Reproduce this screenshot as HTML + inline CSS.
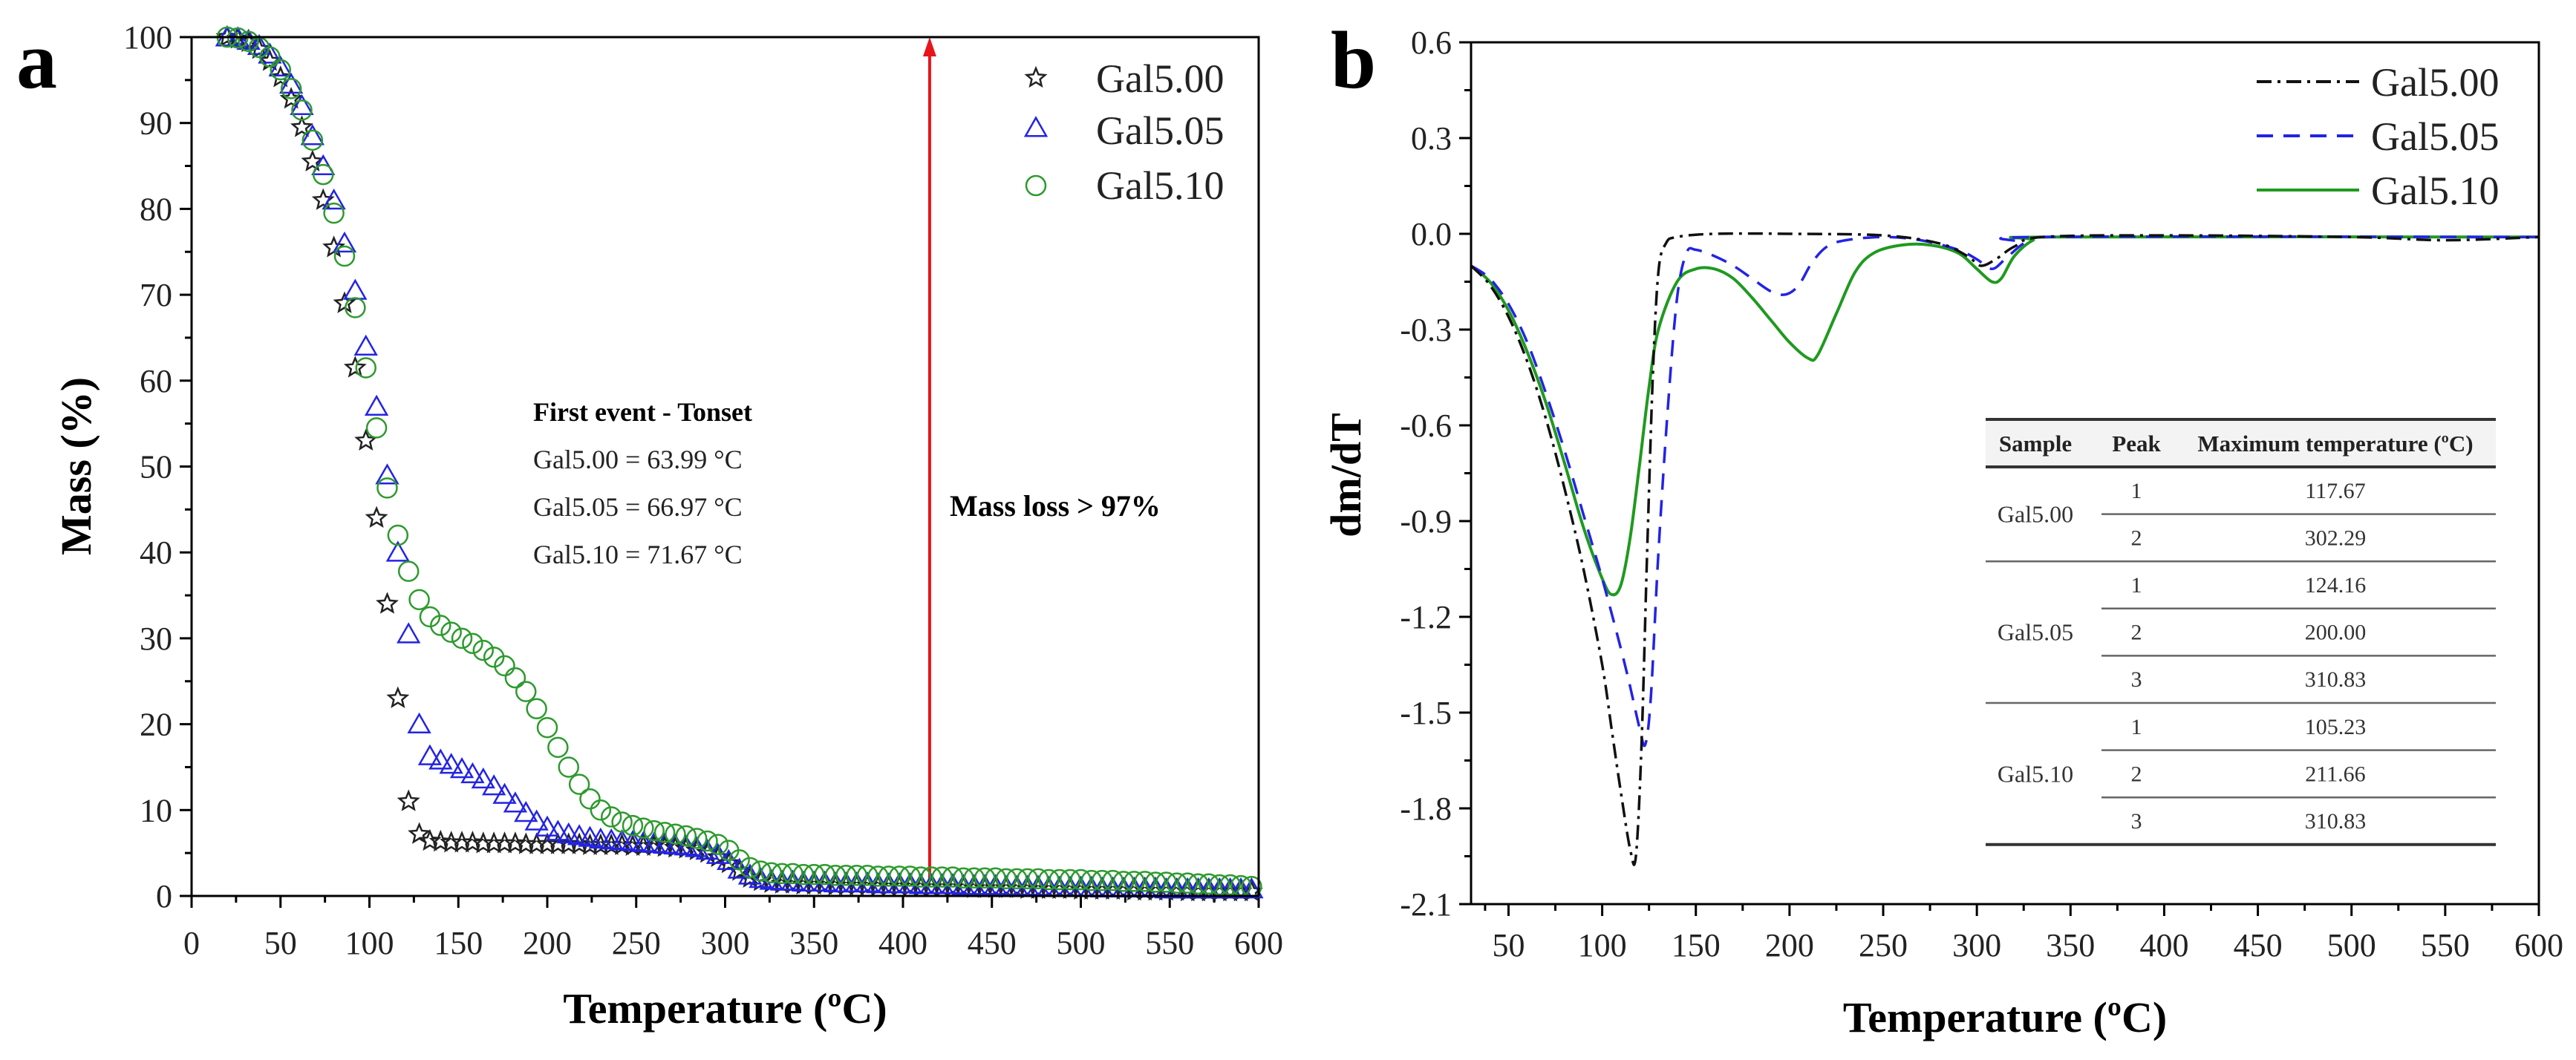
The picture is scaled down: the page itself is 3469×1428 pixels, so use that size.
<!DOCTYPE html>
<html><head><meta charset="utf-8"><style>
html,body{margin:0;padding:0;background:#fff;}
svg{display:block;font-family:"Liberation Serif",serif;}
</style></head><body>
<svg id="fig" width="3469" height="1428" viewBox="0 0 3469 1428" xmlns="http://www.w3.org/2000/svg">
<rect width="3469" height="1428" fill="#fff"/>
<g id="pa"></g>
<g id="pb"></g>
</svg>
<script>
// ---------- Panel a data ----------
const tempA = [20,26,32,38,44,50,56,62,68,74,80,86,92,98,104,110,116,122,128,134,140,146,152,158,164,170,176,182,188,194,200,206,212,218,224,230,236,242,248,254,260,266,272,278,284,290,296,302,308,314,320,326,332,338,344,350,356,362,368,374,380,386,392,398,404,410,416,422,428,434,440,446,452,458,464,470,476,482,488,494,500,506,512,518,524,530,536,542,548,554,560,566,572,578,584,590,596];
const massGal500 = [100,99.8,99.4,98.6,97.2,95.3,92.8,89.5,85.5,81,75.5,69,61.5,53,44,34,23,11,7.2,6.4,6.3,6.2,6.2,6.2,6.1,6.1,6.1,6.1,6.0,6.0,6.0,6.0,6.0,6.0,5.9,5.9,5.9,5.9,5.8,5.8,5.8,5.7,5.6,5.5,5.3,5.0,4.5,3.8,2.9,2.1,1.7,1.5,1.4,1.4,1.3,1.3,1.3,1.2,1.2,1.2,1.2,1.1,1.1,1.1,1.1,1.0,1.0,1.0,1.0,1.0,0.9,0.9,0.9,0.9,0.9,0.8,0.8,0.8,0.8,0.8,0.7,0.7,0.7,0.7,0.7,0.6,0.6,0.6,0.6,0.6,0.5,0.5,0.5,0.5,0.5,0.5,0.5];
const massGal505 = [100,99.9,99.6,99,98,96.5,94.5,92,88.5,85,81,76,70.5,64,57,49,40,30.5,20,16.3,15.8,15.3,14.8,14.2,13.6,12.8,11.8,10.8,9.7,8.7,8,7.5,7.2,7,6.8,6.6,6.5,6.4,6.3,6.2,6.1,6.0,5.9,5.8,5.6,5.3,4.8,4.1,3.1,2.4,2.0,1.8,1.7,1.7,1.6,1.6,1.6,1.5,1.5,1.5,1.5,1.4,1.4,1.4,1.4,1.3,1.3,1.3,1.3,1.2,1.2,1.2,1.2,1.1,1.1,1.1,1.1,1.0,1.0,1.0,1.0,1.0,0.9,0.9,0.9,0.9,0.9,0.9,0.8,0.8,0.8,0.8,0.8,0.8,0.8,0.8,0.8];
const massGal510 = [100,99.9,99.5,98.8,97.7,96.2,94,91.5,88,84,79.5,74.5,68.5,61.5,54.5,47.5,42,37.8,34.5,32.5,31.5,30.7,30,29.4,28.6,27.8,26.8,25.4,23.8,21.8,19.6,17.3,15,13,11.3,10,9.2,8.6,8.2,7.9,7.6,7.4,7.2,7,6.7,6.4,6,5.3,4.2,3.3,2.9,2.7,2.6,2.6,2.5,2.5,2.5,2.4,2.4,2.4,2.4,2.3,2.3,2.3,2.3,2.2,2.2,2.2,2.2,2.1,2.1,2.1,2.1,2.0,2.0,2.0,2.0,1.9,1.9,1.9,1.9,1.8,1.8,1.8,1.7,1.7,1.7,1.6,1.6,1.5,1.5,1.4,1.4,1.3,1.3,1.2,1.1];
const xTicksA = [0,50,100,150,200,250,300,350,400,450,500,550,600];
const yTicksA = [0,10,20,30,40,50,60,70,80,90,100];
const arrowTemp = 415;
const arrowFrom = 2, arrowTo = 100;

// ---------- Panel b data ----------
const tB500 = [30,40,50,60,70,80,90,100,105,110,115,118,121,124,127,130,134,140,160,200,250,280,295,302,310,320,335,400,500,550,600];
const dB500 = [-0.1,-0.16,-0.26,-0.40,-0.58,-0.80,-1.05,-1.35,-1.55,-1.75,-1.93,-1.95,-1.6,-1.0,-0.45,-0.12,-0.03,-0.01,0,0,-0.005,-0.03,-0.07,-0.1,-0.08,-0.04,-0.01,-0.005,-0.01,-0.02,-0.01];
const tB505 = [30,40,50,60,70,80,90,100,110,115,120,123,126,130,135,140,145,150,160,170,180,190,198,205,212,220,230,250,270,290,300,308,315,325,335,600];
const dB505 = [-0.1,-0.14,-0.22,-0.34,-0.50,-0.68,-0.88,-1.08,-1.30,-1.42,-1.55,-1.6,-1.45,-1.0,-0.55,-0.2,-0.06,-0.05,-0.07,-0.1,-0.14,-0.18,-0.19,-0.16,-0.09,-0.04,-0.02,-0.01,-0.02,-0.05,-0.08,-0.11,-0.08,-0.03,-0.01,-0.01];
const tB510 = [30,40,50,60,70,80,90,100,105,110,115,120,125,130,140,150,160,170,180,190,200,210,215,225,235,245,260,275,290,300,308,313,320,330,340,600];
const dB510 = [-0.1,-0.15,-0.24,-0.37,-0.53,-0.72,-0.92,-1.08,-1.13,-1.1,-0.95,-0.72,-0.48,-0.3,-0.15,-0.11,-0.11,-0.14,-0.2,-0.27,-0.34,-0.39,-0.38,-0.25,-0.12,-0.06,-0.035,-0.035,-0.06,-0.11,-0.15,-0.14,-0.07,-0.02,-0.01,-0.01];
const xTicksB = [50,100,150,200,250,300,350,400,450,500,550,600];
const yTicksB = [0.6,0.3,0.0,-0.3,-0.6,-0.9,-1.2,-1.5,-1.8,-2.1];
const tableSamples = ["Gal5.00","Gal5.05","Gal5.10"];
const tablePeaks = [["1","2"],["1","2","3"],["1","2","3"]];
const tableTemps = [["117.67","302.29"],["124.16","200.00","310.83"],["105.23","211.66","310.83"]];

const NS="http://www.w3.org/2000/svg";
function mk(parent,tag,attrs,text){const e=document.createElementNS(NS,tag);for(const k in attrs)e.setAttribute(k,attrs[k]);if(text!==undefined)e.textContent=text;parent.appendChild(e);return e;}

// ===== Panel A =====
const pa=document.getElementById('pa');
const AL=258,AR=1695,AT=50,AB=1207;
const ax=v=>AL+(v-0)/(600-0)*(AR-AL);
const ay=v=>AB-(v-0)/(100-0)*(AB-AT);
let t=mk(pa,'text',{x:22,y:118,'font-size':110,'font-weight':'bold'},'a');


// minor ticks
for(let i=0;i<xTicksA.length-1;i++){const m=(xTicksA[i]+xTicksA[i+1])/2;const l=mk(pa,'line',{x1:ax(m),x2:ax(m),y1:AB,y2:AB+9,stroke:'#000','stroke-width':3});

}
for(let i=0;i<yTicksA.length-1;i++){const m=(yTicksA[i]+yTicksA[i+1])/2;const l=mk(pa,'line',{x1:AL-9,x2:AL,y1:ay(m),y2:ay(m),stroke:'#000','stroke-width':3});

}
xTicksA.forEach(v=>{const l=mk(pa,'line',{x1:ax(v),x2:ax(v),y1:AB,y2:AB+16,stroke:'#000','stroke-width':3});


const tx=mk(pa,'text',{x:ax(v),y:AB+78,'font-size':44,'text-anchor':'middle',fill:'#222'},String(v));

});
yTicksA.forEach(v=>{const l=mk(pa,'line',{x1:AL-16,x2:AL,y1:ay(v),y2:ay(v),stroke:'#000','stroke-width':3});


const tx=mk(pa,'text',{x:AL-26,y:ay(v)+15,'font-size':44,'text-anchor':'end',fill:'#222'},String(v));

});
t=mk(pa,'text',{x:(AL+AR)/2,y:1378,'font-size':58,'font-weight':'bold','text-anchor':'middle'},'Temperature (ºC)');


t=mk(pa,'text',{x:0,y:0,'font-size':58,'font-weight':'bold','text-anchor':'middle',transform:'translate(122,628) rotate(-90)'},'Mass (%)');


// arrow
const arr=mk(pa,'line',{x1:ax(arrowTemp),x2:ax(arrowTemp),y1:ay(arrowFrom),y2:ay(arrowTo)+24,stroke:'#e8141b','stroke-width':4});


const ah=mk(pa,'polygon',{points:`${ax(arrowTemp)-9},${ay(arrowTo)+26} ${ax(arrowTemp)+9},${ay(arrowTo)+26} ${ax(arrowTemp)},${ay(arrowTo)}`,fill:'#e8141b'});


// markers
function star(g,cx,cy,r,col){let p=[];for(let i=0;i<10;i++){const a=-Math.PI/2+i*Math.PI/5;const rr=i%2?r*0.45:r;p.push((cx+rr*Math.cos(a)).toFixed(1)+','+(cy+rr*Math.sin(a)).toFixed(1));}return mk(g,'polygon',{points:p.join(' '),fill:'none',stroke:col,'stroke-width':2.5});}
const gS=mk(pa,'g',{});


const gT=mk(pa,'g',{});


const gC=mk(pa,'g',{});


function tri(g,cx,cy,r,col){return mk(g,'polygon',{points:`${cx-r},${cy+r*0.8} ${cx+r},${cy+r*0.8} ${cx},${cy-r*0.95}`,fill:'none',stroke:col,'stroke-width':2.5});}
tempA.forEach((T,i)=>{const c=mk(gC,'circle',{cx:ax(T),cy:ay(massGal510[i]),r:13,fill:'none',stroke:'#2e9a2e','stroke-width':2.5});

});
tempA.forEach((T,i)=>{const c=tri(gT,ax(T),ay(massGal505[i]),14,'#2323e6');

});
tempA.forEach((T,i)=>{const c=star(gS,ax(T),ay(massGal500[i]),13,'#222');

});
// frame
const fa=mk(pa,'rect',{x:AL,y:AT,width:AR-AL,height:AB-AT,fill:'none',stroke:'#000','stroke-width':3});


// legend a
const legA=mk(pa,'g',{});


let s=star(legA,1395,105,13,'#222');
s=tri(legA,1395,172,14,'#2323e6');
s=mk(legA,'circle',{cx:1395,cy:250,r:13,fill:'none',stroke:'#2e9a2e','stroke-width':2.5});
["Gal5.00","Gal5.05","Gal5.10"].forEach((n,i)=>{const e=mk(legA,'text',{x:1476,y:[124,194,268][i],'font-size':54,fill:'#222'},n);

});
// annotations
t=mk(pa,'text',{x:718,y:567,'font-size':36,'font-weight':'bold'},'First event - Tonset');


["Gal5.00 = 63.99 °C","Gal5.05 = 66.97 °C","Gal5.10 = 71.67 °C"].forEach((n,i)=>{const e=mk(pa,'text',{x:718,y:631+i*64,'font-size':36,fill:'#222'},n);

});
t=mk(pa,'text',{x:1279,y:695,'font-size':40,'font-weight':'bold'},'Mass loss > 97%');



// ===== Panel B =====
const pb=document.getElementById('pb');
const BL=1981,BR=3419,BT=57,BB=1218;
const bx=v=>BL+(v-30)/(600-30)*(BR-BL);
const by=v=>BB-(v+2.1)/(0.6+2.1)*(BB-BT);
t=mk(pb,'text',{x:1792,y:118,'font-size':110,'font-weight':'bold'},'b');


[25,...xTicksB].forEach((v,i,a)=>{if(i<a.length-1){const m=(a[i]+a[i+1])/2;const l=mk(pb,'line',{x1:bx(m),x2:bx(m),y1:BB,y2:BB+9,stroke:'#000','stroke-width':3});

}});
for(let i=0;i<yTicksB.length-1;i++){const m=(yTicksB[i]+yTicksB[i+1])/2;const l=mk(pb,'line',{x1:BL-9,x2:BL,y1:by(m),y2:by(m),stroke:'#000','stroke-width':3});

}
xTicksB.forEach(v=>{const l=mk(pb,'line',{x1:bx(v),x2:bx(v),y1:BB,y2:BB+16,stroke:'#000','stroke-width':3});


const tx=mk(pb,'text',{x:bx(v),y:BB+70,'font-size':44,'text-anchor':'middle',fill:'#222'},String(v));

});
yTicksB.forEach(v=>{const l=mk(pb,'line',{x1:BL-16,x2:BL,y1:by(v),y2:by(v),stroke:'#000','stroke-width':3});


const tx=mk(pb,'text',{x:BL-26,y:by(v)+15,'font-size':44,'text-anchor':'end',fill:'#222'},v.toFixed(1));

});
t=mk(pb,'text',{x:(BL+BR)/2,y:1390,'font-size':58,'font-weight':'bold','text-anchor':'middle'},'Temperature (ºC)');


t=mk(pb,'text',{x:0,y:0,'font-size':58,'font-weight':'bold','text-anchor':'middle',transform:'translate(1832,640) rotate(-90)'},'dm/dT');


// table
const tb=mk(pb,'g',{});


const TL=2674,TR=3361;
mk(tb,'rect',{x:TL,y:565,width:TR-TL,height:64,fill:'#f3f3f3'});
mk(tb,'line',{x1:TL,x2:TR,y1:565,y2:565,stroke:'#333','stroke-width':4});
mk(tb,'line',{x1:TL,x2:TR,y1:629,y2:629,stroke:'#333','stroke-width':4});
const hdr=[["Sample",2741],["Peak",2877],["Maximum temperature (ºC)",3145]];
hdr.forEach(h=>{const e=mk(tb,'text',{x:h[1],y:608,'font-size':31,'font-weight':'bold','text-anchor':'middle',fill:'#222'},h[0]);

});
const rowH=63.6;let rowY=629;
tableSamples.forEach((smp,si)=>{const n=tablePeaks[si].length;
const e=mk(tb,'text',{x:2741,y:rowY+n*rowH/2+11,'font-size':32,'text-anchor':'middle',fill:'#333'},smp);


tablePeaks[si].forEach((p,pi)=>{const cy=rowY+pi*rowH+rowH/2+10;
const a=mk(tb,'text',{x:2877,y:cy,'font-size':30,'text-anchor':'middle',fill:'#333'},p);


const b=mk(tb,'text',{x:3145,y:cy,'font-size':30,'text-anchor':'middle',fill:'#333'},tableTemps[si][pi]);


if(pi<n-1)mk(tb,'line',{x1:2830,x2:TR,y1:rowY+(pi+1)*rowH,y2:rowY+(pi+1)*rowH,stroke:'#666','stroke-width':2.5});});
rowY+=n*rowH;
mk(tb,'line',{x1:TL,x2:TR,y1:rowY,y2:rowY,stroke:si===2?'#333':'#666','stroke-width':si===2?4:2.5});});
// curves
function pathOf(xs,ys){const P=xs.map((x,i)=>[bx(x),by(ys[i])]);let d=`M${P[0][0].toFixed(1)},${P[0][1].toFixed(1)}`;
for(let i=0;i<P.length-1;i++){const p0=P[Math.max(0,i-1)],p1=P[i],p2=P[i+1],p3=P[Math.min(P.length-1,i+2)];
const c1=[p1[0]+(p2[0]-p0[0])/6,p1[1]+(p2[1]-p0[1])/6],c2=[p2[0]-(p3[0]-p1[0])/6,p2[1]-(p3[1]-p1[1])/6];
d+=` C${c1[0].toFixed(1)},${c1[1].toFixed(1)} ${c2[0].toFixed(1)},${c2[1].toFixed(1)} ${p2[0].toFixed(1)},${p2[1].toFixed(1)}`;}return d;}
let c=mk(pb,'path',{d:pathOf(tB510,dB510),fill:'none',stroke:'#1f9a1f','stroke-width':4});


c=mk(pb,'path',{d:pathOf(tB505,dB505),fill:'none',stroke:'#2323e6','stroke-width':3.5,'stroke-dasharray':'22 14'});


c=mk(pb,'path',{d:pathOf(tB500,dB500),fill:'none',stroke:'#111','stroke-width':3.5,'stroke-dasharray':'20 8 4 8'});


const fb=mk(pb,'rect',{x:BL,y:BT,width:BR-BL,height:BB-BT,fill:'none',stroke:'#000','stroke-width':3});


// legend b
const legB=mk(pb,'g',{});


const lsty=[['#111','20 8 4 8'],['#2323e6','22 14'],['#1f9a1f','none']];
["Gal5.00","Gal5.05","Gal5.10"].forEach((n,i)=>{const yy=[110,183,256][i];
const l=mk(legB,'line',{x1:3039,x2:3177,y1:yy,y2:yy,stroke:lsty[i][0],'stroke-width':4,'stroke-dasharray':lsty[i][1]});


const e=mk(legB,'text',{x:3193,y:yy+19,'font-size':54,fill:'#222'},n);

});
</script>
</body></html>
